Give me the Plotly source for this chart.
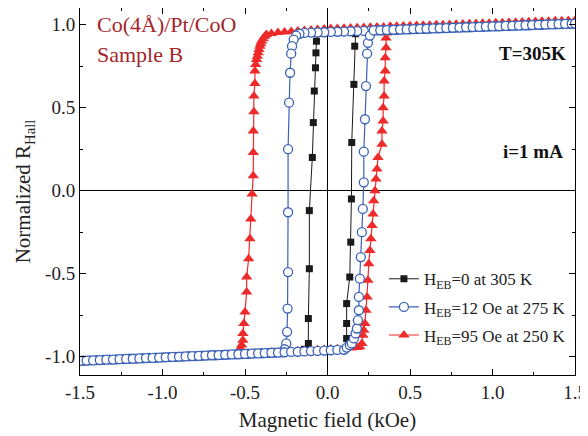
import plotly.graph_objects as go

# ---------------- data ----------------
# Black: H_EB = 0 at 305 K
black_x = [1.50, 1.02, 0.50, 0.02, -0.06, -0.067, -0.07, -0.073, -0.08, -0.086, -0.092,
           -0.11, -0.11, -0.116, -0.116, -0.14, -0.50, -1.02, -1.50,
           -1.02, -0.50, 0.02, 0.10, 0.116, 0.116, 0.116, 0.135, 0.141, 0.145, 0.147,
           0.16, 0.165, 0.17, 0.50, 1.02, 1.50]
black_y = [1.006, 0.990, 0.972, 0.956, 0.946, 0.90, 0.83, 0.74, 0.60, 0.41, 0.20,
           -0.12, -0.47, -0.77, -0.92, -0.955, -0.983, -1.005, -1.025,
           -1.005, -0.983, -0.961, -0.958, -0.89, -0.80, -0.68, -0.52, -0.31, -0.05, 0.29,
           0.64, 0.87, 0.945, 0.972, 0.990, 1.006]

# Blue: H_EB = 12 Oe at 275 K
blue_x = [1.50, 1.46, 1.42, 1.38, 1.34, 1.30, 1.26, 1.22, 1.18, 1.14, 1.10, 1.06, 1.02, 0.98,
          0.94, 0.90, 0.86, 0.82, 0.78, 0.74, 0.70, 0.66, 0.62, 0.58, 0.54, 0.50, 0.46, 0.42,
          0.38, 0.34, 0.30, 0.26, 0.22, 0.18, 0.14, 0.10, 0.06, 0.02, -0.02, -0.06, -0.10,
          -0.14, -0.17,
          -0.19, -0.205, -0.215, -0.22, -0.227, -0.233, -0.239, -0.239, -0.239, -0.242,
          -0.245, -0.25, -0.26,
          -0.28, -0.32, -0.36, -0.40, -0.44, -0.48, -0.52, -0.56, -0.60, -0.64, -0.68, -0.72,
          -0.76, -0.80, -0.84, -0.88, -0.92, -0.96, -1.00, -1.04, -1.08, -1.12, -1.16, -1.20,
          -1.24, -1.28, -1.32, -1.36, -1.40, -1.44, -1.48, -1.50,
          -1.46, -1.42, -1.38, -1.34, -1.30, -1.26, -1.22, -1.18, -1.14, -1.10, -1.06, -1.02,
          -0.98, -0.94, -0.90, -0.86, -0.82, -0.78, -0.74, -0.70, -0.66, -0.62, -0.58, -0.54,
          -0.50, -0.46, -0.42, -0.38, -0.34, -0.30, -0.26, -0.22, -0.18, -0.14, -0.10, -0.06,
          -0.02, 0.02, 0.06, 0.10,
          0.116, 0.135, 0.147, 0.16, 0.17, 0.178, 0.184, 0.19, 0.19, 0.196, 0.202, 0.208,
          0.214, 0.22, 0.22, 0.227, 0.233, 0.24, 0.245, 0.257,
          0.28, 0.32, 0.36, 0.40, 0.44, 0.48, 0.52, 0.56, 0.60, 0.64, 0.68, 0.72, 0.76, 0.80,
          0.84, 0.88, 0.92, 0.96, 1.00, 1.04, 1.08, 1.12, 1.16, 1.20, 1.24, 1.28, 1.32, 1.36,
          1.40, 1.44, 1.48, 1.50]
blue_y = [1.006, 1.005, 1.003, 1.002, 1.001, 0.999, 0.998, 0.996, 0.995, 0.994, 0.992, 0.991,
          0.990, 0.988, 0.987, 0.986, 0.984, 0.983, 0.982, 0.980, 0.979, 0.977, 0.976, 0.975,
          0.973, 0.972, 0.971, 0.969, 0.968, 0.967, 0.965, 0.964, 0.962, 0.961, 0.960, 0.958,
          0.957, 0.956, 0.954, 0.953, 0.952, 0.950, 0.945,
          0.934, 0.91, 0.87, 0.825, 0.71, 0.53, 0.25, -0.13, -0.49, -0.71, -0.85, -0.92, -0.955,
          -0.974, -0.975, -0.977, -0.979, -0.980, -0.982, -0.984, -0.986, -0.987, -0.989,
          -0.991, -0.992, -0.994, -0.996, -0.997, -0.999, -1.001, -1.002, -1.004, -1.006,
          -1.007, -1.009, -1.011, -1.012, -1.014, -1.016, -1.017, -1.019, -1.021, -1.022,
          -1.024, -1.025,
          -1.023, -1.022, -1.020, -1.018, -1.017, -1.015, -1.013, -1.012, -1.010, -1.008,
          -1.007, -1.005, -1.003, -1.001, -1.000, -0.998, -0.996, -0.995, -0.993, -0.991,
          -0.990, -0.988, -0.986, -0.985, -0.983, -0.981, -0.980, -0.978, -0.976, -0.975,
          -0.973, -0.971, -0.970, -0.968, -0.966, -0.965, -0.963, -0.961, -0.959, -0.958,
          -0.945, -0.93, -0.92, -0.89, -0.86, -0.83, -0.78, -0.72, -0.64, -0.53, -0.40, -0.25,
          -0.11, 0.05, 0.235, 0.43, 0.63, 0.825, 0.89, 0.934,
          0.965, 0.966, 0.967, 0.969, 0.970, 0.971, 0.973, 0.974, 0.975, 0.977, 0.978, 0.979,
          0.981, 0.982, 0.984, 0.985, 0.986, 0.988, 0.989, 0.990, 0.992, 0.993, 0.994, 0.996,
          0.997, 0.999, 1.000, 1.001, 1.003, 1.004, 1.005, 1.006]

# Red: H_EB = 95 Oe at 250 K
red_x = [1.50, 1.46, 1.42, 1.38, 1.34, 1.30, 1.26, 1.22, 1.18, 1.14, 1.10, 1.06, 1.02, 0.98,
         0.94, 0.90, 0.86, 0.82, 0.78, 0.74, 0.70, 0.66, 0.62, 0.58, 0.54, 0.50, 0.46, 0.42,
         0.38, 0.34, 0.30, 0.26, 0.22, 0.18, 0.14, 0.10, 0.06, 0.02, -0.02, -0.06, -0.10,
         -0.14, -0.18, -0.22, -0.26, -0.30, -0.34,
         -0.37, -0.38, -0.39, -0.40, -0.405, -0.41, -0.415, -0.42, -0.425, -0.43, -0.435,
         -0.44, -0.44, -0.446, -0.446, -0.45, -0.45, -0.45, -0.457, -0.465, -0.47, -0.478,
         -0.49, -0.49, -0.50, -0.507, -0.513, -0.513, -0.52, -0.527, -0.54,
         -0.56, -0.60, -0.64, -0.68, -0.72, -0.76, -0.80, -0.84, -0.88, -0.92, -0.96, -1.00,
         -1.04, -1.08, -1.12, -1.16, -1.20, -1.24, -1.28, -1.32, -1.36, -1.40, -1.44, -1.48,
         -1.50,
         -1.46, -1.42, -1.38, -1.34, -1.30, -1.26, -1.22, -1.18, -1.14, -1.10, -1.06, -1.02,
         -0.98, -0.94, -0.90, -0.86, -0.82, -0.78, -0.74, -0.70, -0.66, -0.62, -0.58, -0.54,
         -0.50, -0.46, -0.42, -0.38, -0.34, -0.30, -0.26, -0.22, -0.18, -0.14, -0.10, -0.06,
         -0.02, 0.02, 0.06, 0.10, 0.14, 0.18,
         0.195, 0.208, 0.215, 0.22, 0.227, 0.233, 0.24, 0.245, 0.25, 0.257, 0.263, 0.27,
         0.276, 0.28, 0.288, 0.294, 0.30, 0.306, 0.33, 0.33, 0.337, 0.337, 0.343, 0.343,
         0.35, 0.35, 0.355, 0.355, 0.36,
         0.38, 0.42, 0.46, 0.50, 0.54, 0.58, 0.62, 0.66, 0.70, 0.74, 0.78, 0.82, 0.86, 0.90,
         0.94, 0.98, 1.02, 1.06, 1.10, 1.14, 1.18, 1.22, 1.26, 1.30, 1.34, 1.38, 1.42, 1.46,
         1.50]
red_y = [1.025, 1.023, 1.022, 1.021, 1.019, 1.018, 1.017, 1.015, 1.014, 1.013, 1.011, 1.010,
         1.009, 1.007, 1.006, 1.005, 1.003, 1.002, 1.001, 0.999, 0.998, 0.997, 0.995, 0.994,
         0.993, 0.992, 0.990, 0.989, 0.988, 0.986, 0.985, 0.984, 0.982, 0.981, 0.980, 0.978,
         0.977, 0.976, 0.974, 0.971, 0.968, 0.965, 0.962, 0.958, 0.955, 0.952, 0.947,
         0.94, 0.93, 0.915, 0.90, 0.885, 0.87, 0.85, 0.83, 0.81, 0.79, 0.76,
         0.72, 0.645, 0.57, 0.475, 0.36, 0.23, 0.09, -0.02, -0.17, -0.29, -0.41,
         -0.52, -0.61, -0.73, -0.80, -0.86, -0.90, -0.93, -0.95, -0.965,
         -0.986, -0.988, -0.990, -0.992, -0.995, -0.997, -0.999, -1.001, -1.003, -1.006,
         -1.008, -1.010, -1.012, -1.014, -1.017, -1.019, -1.021, -1.023, -1.025, -1.028,
         -1.030, -1.032, -1.034, -1.036, -1.038,
         -1.035, -1.033, -1.031, -1.029, -1.027, -1.024, -1.022, -1.020, -1.018, -1.016,
         -1.013, -1.011, -1.009, -1.007, -1.005, -1.002, -1.000, -0.998, -0.996, -0.994,
         -0.991, -0.989, -0.987, -0.985, -0.983, -0.980, -0.978, -0.976, -0.974, -0.972,
         -0.969, -0.967, -0.965, -0.963, -0.961, -0.958, -0.956, -0.954, -0.952, -0.950,
         -0.947, -0.945,
         -0.94, -0.92, -0.87, -0.84, -0.80, -0.72, -0.64, -0.54, -0.44, -0.36, -0.29, -0.21,
         -0.14, -0.06, 0.0, 0.07, 0.13, 0.20, 0.28, 0.36, 0.42, 0.50, 0.57, 0.66,
         0.72, 0.80, 0.86, 0.92, 0.95,
         0.988, 0.989, 0.990, 0.992, 0.993, 0.994, 0.995, 0.997, 0.998, 0.999, 1.001, 1.002,
         1.003, 1.005, 1.006, 1.007, 1.009, 1.010, 1.011, 1.013, 1.014, 1.015, 1.017, 1.018,
         1.019, 1.021, 1.022, 1.023, 1.025]

series_names = ["H<sub>EB</sub>=0 at 305 K",
                "H<sub>EB</sub>=12 Oe at 275 K",
                "H<sub>EB</sub>=95 Oe at 250 K"]

x_tickvals = [-1.5, -1.0, -0.5, 0.0, 0.5, 1.0, 1.5]
x_ticktext = ["-1.5", "-1.0", "-0.5", "0.0", "0.5", "1.0", "1.5"]
y_tickvals = [-1.0, -0.5, 0.0, 0.5, 1.0]
y_ticktext = ["-1.0", "-0.5", "0.0", "0.5", "1.0"]

# ---------------- figure ----------------
SERIF = "Liberation Serif"
BLACK = "#1a1a1a"
BLUE = "#3a62b8"
RED = "#ee2a2a"
DARKRED = "#a3262b"

fig = go.Figure()

fig.add_trace(go.Scatter(
    x=black_x, y=black_y, mode="lines+markers", name=series_names[0], legendrank=1,
    legendgroup="g1",
    line=dict(color=BLACK, width=1),
    marker=dict(symbol="square", size=7, color=BLACK, line=dict(width=0)),
))
fig.add_trace(go.Scatter(
    x=red_x, y=red_y, mode="lines+markers", name=series_names[2], legendrank=3,
    legendgroup="g3",
    line=dict(color=RED, width=1.2),
    marker=dict(symbol="triangle-up", size=10, color=RED, line=dict(width=0)),
))
fig.add_trace(go.Scatter(
    x=blue_x, y=blue_y, mode="lines+markers", name=series_names[1], legendrank=2,
    legendgroup="g2",
    line=dict(color=BLUE, width=1.2),
    marker=dict(symbol="circle", size=9, color="white", line=dict(color=BLUE, width=1.3)),
))

axis_common = dict(
    showline=True, linecolor="black", linewidth=1, mirror="ticks",
    ticks="inside", ticklen=6, tickwidth=1, tickcolor="black",
    showgrid=False, zeroline=True, zerolinecolor="black", zerolinewidth=1.2,
    tickfont=dict(family=SERIF, size=19, color="#222"),
    minor=dict(ticks="inside", ticklen=3, tickwidth=1, tickcolor="black", showgrid=False),
)

fig.update_xaxes(
    range=[-1.5, 1.5], tickvals=x_tickvals, ticktext=x_ticktext,
    minor_dtick=0.25,
    title=dict(text="Magnetic field (kOe)", font=dict(family=SERIF, size=21, color="#222"),
               standoff=10),
    **axis_common,
)
fig.update_yaxes(
    range=[-1.11, 1.10], tickvals=y_tickvals, ticktext=y_ticktext,
    minor_dtick=0.25,
    title=dict(text="Normalized R<sub>Hall</sub>", font=dict(family=SERIF, size=21, color="#222"),
               standoff=8),
    **axis_common,
)

fig.add_annotation(x=0.03, y=0.954, xref="paper", yref="paper", xanchor="left", yanchor="middle",
                   text="Co(4Å)/Pt/CoO", showarrow=False,
                   font=dict(family=SERIF, size=22, color=DARKRED))
fig.add_annotation(x=0.03, y=0.872, xref="paper", yref="paper", xanchor="left", yanchor="middle",
                   text="Sample B", showarrow=False,
                   font=dict(family=SERIF, size=22, color=DARKRED))
fig.add_annotation(x=0.986, y=0.877, xref="paper", yref="paper", xanchor="right", yanchor="middle",
                   text="<b>T=305K</b>", showarrow=False,
                   font=dict(family=SERIF, size=19, color="#111"))
fig.add_annotation(x=0.98, y=0.608, xref="paper", yref="paper", xanchor="right", yanchor="middle",
                   text="<b>i=1 mA</b>", showarrow=False,
                   font=dict(family=SERIF, size=19, color="#111"))

fig.update_layout(
    width=580, height=428,
    margin=dict(l=72, r=13, t=0, b=61),
    paper_bgcolor="white", plot_bgcolor="white",
    showlegend=True,
    legend=dict(x=0.614, y=0.31, xanchor="left", yanchor="top",
                bgcolor="rgba(0,0,0,0)", borderwidth=0,
                font=dict(family=SERIF, size=17, color="#222"),
                itemwidth=30, tracegroupgap=3),
)

fig.write_html("out.html")
